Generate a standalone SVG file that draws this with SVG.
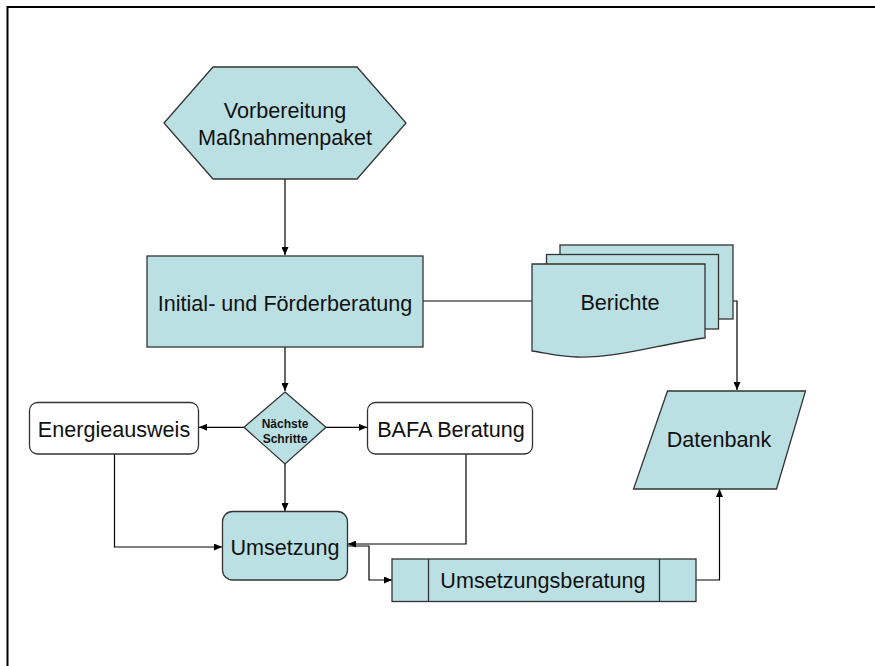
<svg xmlns="http://www.w3.org/2000/svg" width="875" height="666" viewBox="0 0 875 666">
<defs>
<marker id="arr" markerUnits="userSpaceOnUse" markerWidth="8" markerHeight="7" refX="8" refY="3.5" orient="auto">
<path d="M0,0 L8,3.5 L0,7 z" fill="#000"/>
</marker>
<style>
.sh{fill:#BBE0E3;stroke:#333;stroke-width:1.3}
.wh{fill:#fff;stroke:#333;stroke-width:1.3}
.t{font-family:"Liberation Sans",Arial,sans-serif;font-size:21.6px;fill:#111;text-anchor:middle}
.tb{font-family:"Liberation Sans",Arial,sans-serif;font-size:12px;font-weight:bold;fill:#111;text-anchor:middle}
.c{fill:none;stroke:#000;stroke-width:1.2}
.ca{fill:none;stroke:#000;stroke-width:1.2;marker-end:url(#arr)}
</style>
</defs>
<rect x="0" y="0" width="875" height="666" fill="#fff"/>
<rect x="7.5" y="7" width="900" height="700" fill="none" stroke="#000" stroke-width="2"/>

<g id="connectors">
<path class="ca" d="M285,179 V255"/>
<path class="ca" d="M285,347 V391"/>
<path class="ca" d="M244,427.3 H199"/>
<path class="ca" d="M326,427.3 H367"/>
<path class="ca" d="M285,464 V511"/>
<path class="ca" d="M114.5,454 V547 H222"/>
<path class="ca" d="M466,454 V544 H348"/>
<path class="ca" d="M348,546 H369 V580 H392"/>
<path class="ca" d="M696,580 H719.5 V489"/>
<path class="c" d="M423,301 H532"/>
<path class="ca" d="M733,301 H737 V390"/>
</g>

<g id="vorbereitung">
<polygon class="sh" points="213,67 357,67 406,123 357,179 213,179 164,123"/>
<text class="t" x="285" y="118">Vorbereitung</text>
<text class="t" x="285" y="145">Maßnahmenpaket</text>
</g>

<g id="initial">
<rect class="sh" x="147" y="256" width="276" height="91"/>
<text class="t" x="285" y="311">Initial- und Förderberatung</text>
</g>

<g id="berichte">
<rect class="sh" x="560" y="245" width="173" height="74"/>
<rect class="sh" x="546.5" y="254.5" width="172" height="74.5"/>
<path class="sh" d="M532,264 H705 V338 C 660,344 620,358 577,357 C 560,357 546,353 532,351 Z"/>
<text class="t" x="620" y="310">Berichte</text>
</g>

<g id="datenbank">
<polygon class="sh" points="667.5,391 805.5,391 776.5,489 633.5,489"/>
<text class="t" x="719" y="447">Datenbank</text>
</g>

<g id="energieausweis">
<rect class="wh" x="29.5" y="402.5" width="169" height="51.5" rx="8"/>
<text class="t" x="114" y="437">Energieausweis</text>
</g>

<g id="naechste">
<polygon class="sh" points="285,392 326,427.3 285,464 244,427.3"/>
<text class="tb" x="285" y="427.5">Nächste</text>
<text class="tb" x="285" y="443.3">Schritte</text>
</g>

<g id="bafa">
<rect class="wh" x="367.5" y="402.5" width="165" height="51.5" rx="8"/>
<text class="t" x="451" y="437">BAFA Beratung</text>
</g>

<g id="umsetzung">
<rect class="sh" x="222.5" y="511.5" width="125" height="68.5" rx="10"/>
<text class="t" x="285" y="555">Umsetzung</text>
</g>

<g id="umsetzungsberatung">
<rect class="sh" x="392" y="559" width="304" height="42.5"/>
<line x1="428.5" y1="559" x2="428.5" y2="601.5" stroke="#333" stroke-width="1.3"/>
<line x1="659.5" y1="559" x2="659.5" y2="601.5" stroke="#333" stroke-width="1.3"/>
<text class="t" x="543" y="588">Umsetzungsberatung</text>
</g>
</svg>
